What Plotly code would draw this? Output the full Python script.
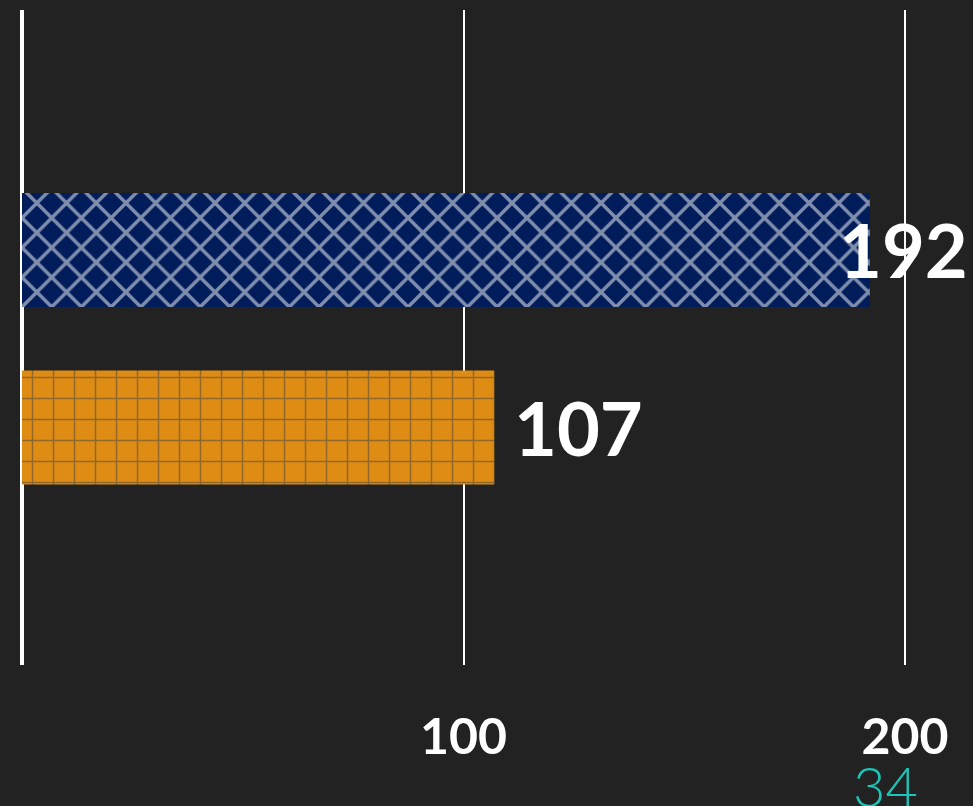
import plotly.graph_objects as go

# Data
categories = ["A", "B"]
values = [192, 107]
bar_colors = ["#001c5b", "#df8c14"]
pattern_shapes = ["x", "+"]
pattern_fg = ["#ffffff", "#000000"]
pattern_solidity = [0.3, 0.14]
tick_values = [0, 100, 200]
tick_labels = ["", "100", "200"]
note_text = "34"

x_max = 214.7
label_font = dict(family="Lato", size=74, color="#ffffff", weight="bold")

fig = go.Figure()
fig.add_trace(go.Bar(
    y=categories,
    x=values,
    orientation="h",
    marker=dict(
        color=bar_colors,
        line=dict(width=0),
        pattern=dict(shape=pattern_shapes, fgcolor=pattern_fg, bgcolor=bar_colors,
                     size=21, solidity=pattern_solidity, fillmode="overlay"),
    ),
    showlegend=False,
))

# Value labels: placed just past the bar end; a label that would run past
# the right edge of the axis is pulled back so it ends at that edge.
annotations = []
for cat, v in zip(categories, values):
    if v > 170:
        annotations.append(dict(x=x_max, y=cat, xref="x", yref="y", text=str(v),
                                xanchor="right", xshift=0, showarrow=False,
                                font=label_font))
    else:
        annotations.append(dict(x=v, y=cat, xref="x", yref="y", text=str(v),
                                xanchor="left", xshift=18, showarrow=False,
                                font=label_font))

annotations.append(dict(
    text=note_text,
    xref="x", yref="paper",
    x=200, y=-0.13,
    xanchor="center", yanchor="top",
    xshift=-20,
    showarrow=False,
    font=dict(family="Lato", size=56, color="#1cc4b8", weight=300),
))

fig.update_layout(
    width=973,
    height=806,
    margin=dict(l=22, r=3, t=10, b=141),
    paper_bgcolor="#222222",
    plot_bgcolor="#222222",
    bargap=0.358,
    xaxis=dict(
        range=[0, x_max],
        tickvals=tick_values,
        ticktext=tick_labels,
        showgrid=True,
        gridcolor="#ffffff",
        gridwidth=2,
        zeroline=True,
        zerolinecolor="#ffffff",
        zerolinewidth=4,
        showline=False,
        ticks="",
        ticklabelstandoff=38,
        tickfont=dict(family="Lato", size=50, color="#ffffff", weight="bold"),
    ),
    yaxis=dict(
        range=[2.338, -1.352],
        showgrid=False,
        zeroline=False,
        showticklabels=False,
        ticks="",
    ),
    annotations=annotations,
)

fig.write_html("out.html")
